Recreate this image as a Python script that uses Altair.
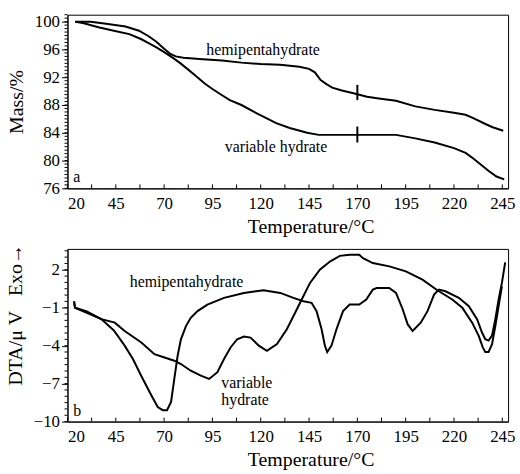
import altair as alt
import pandas as pd

# ---------------- (a) mass curves ----------------
tg_hemi_T = [24, 32, 40, 50, 57, 62, 66, 70, 73, 76, 80, 90, 100, 110, 120, 130, 140, 145, 148,
             151, 154, 157, 162, 168, 175, 182, 190, 200, 210, 220, 226, 230, 236, 240, 245.5]
tg_hemi_m = [100.0, 100.0, 99.7, 99.3, 98.7, 97.9, 97.1, 96.1, 95.4, 95.0, 94.8, 94.6, 94.4, 94.1,
             93.9, 93.8, 93.5, 93.2, 92.7, 91.6, 91.0, 90.5, 90.1, 89.7, 89.2, 88.9, 88.6, 87.8,
             87.3, 86.9, 86.6, 86.1, 85.3, 84.8, 84.3]
tg_var_T = [24, 28, 36, 44, 52, 58, 62, 66, 70, 74, 78, 82, 86, 91, 95, 100, 104, 110, 118, 128,
            135, 144, 150, 190, 200, 210, 220, 226, 230, 234, 238, 242, 246]
tg_var_m = [100.0, 99.8, 99.2, 98.7, 98.2, 97.5, 96.9, 96.3, 95.6, 94.9, 94.1, 93.2, 92.3, 91.1,
            90.3, 89.4, 88.7, 88.0, 86.8, 85.4, 84.7, 84.0, 83.7, 83.7, 83.2, 82.6, 81.8, 81.1,
            80.3, 79.4, 78.5, 77.7, 77.3]

# ---------------- (b) DTA curves ----------------
dta_hemi_T = [23.4, 23.9, 30, 37.5, 44, 49.6, 54, 58.2, 63.3, 66.7, 69.3, 71.5, 73.6, 75.3, 77.0,
              78.7, 81.3, 83.8, 87.3, 92.4, 101.0, 111.3, 121.5, 130.1, 136.9, 142.1, 146.3, 148.9,
              151.5, 153.2, 154.4, 156.6, 159.2, 162.6, 166.0, 171.0, 174.6, 178.0, 180.0, 186.5,
              190.0, 193.5, 196.0, 198.6, 202.8, 206.3, 209.7, 212.2, 215.6, 222.5, 227.7, 232.0,
              234.5, 236.2, 237.9, 239.7, 241.4, 243.1, 244.8, 246.5]
dta_hemi_v = [-0.5, -1.0, -1.4, -1.9, -2.8, -4.0, -5.1, -6.4, -7.9, -8.85, -9.1, -9.1, -8.45, -6.6,
              -4.8, -3.5, -2.45, -1.8, -1.27, -0.75, -0.22, 0.17, 0.38, 0.17, -0.22, -0.49, -0.61,
              -1.27, -2.7, -4.0, -4.5, -4.0, -2.7, -1.27, -0.75, -0.75, -0.35, 0.43, 0.56, 0.56,
              0.17, -1.14, -2.3, -2.84, -2.18, -1.27, 0.04, 0.43, 0.3, -0.22, -0.88, -1.92, -2.96,
              -3.49, -3.6, -3.2, -1.9, -0.35, 0.96, 2.58]
dta_var_T = [23.4, 23.9, 30, 37.5, 44.5, 49.6, 58.2, 65.0, 70.2, 75.3, 78.7, 83.8, 89.0, 93.3, 97.6,
             101.0, 104.4, 107.8, 111.3, 114.7, 119.0, 123.2, 128.4, 133.5, 137.8, 141.2, 145.5,
             150.6, 155.8, 160.9, 166.0, 171.0, 172.9, 178.0, 186.6, 195.1, 203.7, 211.4, 219.1,
             224.3, 229.4, 232.8, 234.9, 236.2, 237.9, 239.7, 241.4, 243.1, 244.8]
dta_var_v = [-0.5, -1.0, -1.3, -1.9, -2.18, -2.84, -3.75, -4.67, -4.93, -5.19, -5.45, -5.98, -6.37,
             -6.63, -6.1, -5.06, -4.14, -3.49, -3.28, -3.36, -4.0, -4.4, -3.88, -2.7, -1.4, -0.35,
             0.96, 2.0, 2.65, 3.1, 3.18, 3.18, 2.92, 2.53, 2.27, 1.87, 1.22, 0.38, -0.35, -1.0,
             -2.18, -3.23, -4.14, -4.5, -4.5, -3.88, -2.45, -0.88, 0.69]

# annotation texts (data coordinates)
a_text = ["hemipentahydrate", "variable hydrate", "a"]
a_T = [121.2, 127.9, 23]
a_y = [95.9, 82.0, 77.6]
a_align = ["center", "center", "left"]
b_text = ["hemipentahydrate", "variable", "hydrate", "b"]
b_T = [81.6, 99.6, 99.6, 23]
b_y = [1.0, -6.94, -8.33, -9.2]
b_align = ["center", "left", "left", "left"]

# vertical marks at 170 °C
mark_T = [170, 170]
mark_lo = [88.7, 82.6]
mark_hi = [90.9, 84.9]

# axis ticks
x_major = [20 + 25 * i for i in range(10)]
x_all = [20 + 12.5 * i for i in range(19)]
ya_major = [76 + 4 * i for i in range(7)]
ya_minor = [76 + 0.5 * i for i in range(51)]
yb_major = [-10 + 3 * i for i in range(5)]
yb_minor = [-10 + 0.5 * i for i in range(28)]

FONT = "Liberation Serif"
W, HA, HB = 444, 175, 174


def long_df(T1, v1, T2, v2):
    return pd.concat([
        pd.DataFrame({"T": T1, "v": v1, "s": "hemipentahydrate"}),
        pd.DataFrame({"T": T2, "v": v2, "s": "variable hydrate"}),
    ], ignore_index=True)


XAX = alt.Axis(values=x_major, ticks=False, title="Temperature/°C", titleX=245,
               titleAlign="center", labelPadding=7, titlePadding=5, grid=False,
               labelOverlap=False)


def y_axis(values, title, **kw):
    return alt.Axis(values=values, tickSize=6, title=title, labelPadding=2, titlePadding=8,
                    grid=False, labelOverlap=False, **kw)


def panel(df, xs, ys, yax, y_minor, h, texts, extra=None):
    X = alt.X("T:Q", scale=xs, axis=XAX)
    Y = alt.Y("v:Q", scale=ys, axis=yax)
    layers = [alt.Chart(df).mark_line(color="black", strokeWidth=2).encode(
        x=X, y=Y, detail="s:N")]
    if extra is not None:
        layers.append(alt.Chart(pd.DataFrame(extra)).mark_rule(
            color="black", strokeWidth=2).encode(
            x=X, y=alt.Y("lo:Q", scale=ys, axis=yax), y2="hi:Q"))
    # minor/inward x ticks
    layers.append(alt.Chart(pd.DataFrame({"T": x_all})).mark_rule(
        color="black", strokeWidth=1).encode(x=X, y=alt.value(h - 4), y2=alt.value(h)))
    # minor y ticks
    layers.append(alt.Chart(pd.DataFrame({"v": y_minor})).mark_rule(
        color="black", strokeWidth=1).encode(y=Y, x=alt.value(-3), x2=alt.value(0)))
    T, yv, t, al = texts
    tdf = pd.DataFrame({"T": T, "v": yv, "t": t, "al": al})
    for a in ["center", "left"]:
        layers.append(alt.Chart(tdf).transform_filter(alt.datum.al == a).mark_text(
            font=FONT, fontSize=16, color="black", align=a).encode(x=X, y=Y, text="t:N"))
    return alt.layer(*layers).properties(width=W, height=h)


xscale = alt.Scale(domain=[20, 248], nice=False, zero=False)
ya_scale = alt.Scale(domain=[76, 101], nice=False, zero=False)
yb_scale = alt.Scale(domain=[-10, 3.65], nice=False, zero=False)

top = panel(long_df(tg_hemi_T, tg_hemi_m, tg_var_T, tg_var_m), xscale, ya_scale,
            y_axis(ya_major, "Mass/%"), ya_minor, HA, (a_T, a_y, a_text, a_align),
            extra={"T": mark_T, "lo": mark_lo, "hi": mark_hi})
bottom = panel(long_df(dta_hemi_T, dta_hemi_v, dta_var_T, dta_var_v), xscale, yb_scale,
               y_axis(yb_major, "DTA/\u03bc V\u00a0\u00a0\u00a0Exo\u2192", titleY=66),
               yb_minor, HB, (b_T, b_y, b_text, b_align))

chart = alt.vconcat(top, bottom, spacing=6).properties(
    padding={"left": 4, "top": 10, "right": 4, "bottom": 0}
).configure_view(stroke="black", strokeWidth=1).configure_axis(
    labelFont=FONT, titleFont=FONT, labelFontSize=17, titleFontSize=20,
    labelColor="black", titleColor="black", domainColor="black", tickColor="black",
    titleFontWeight="normal",
)

chart.save("out.html", embed_options={"renderer": "svg", "actions": False})
